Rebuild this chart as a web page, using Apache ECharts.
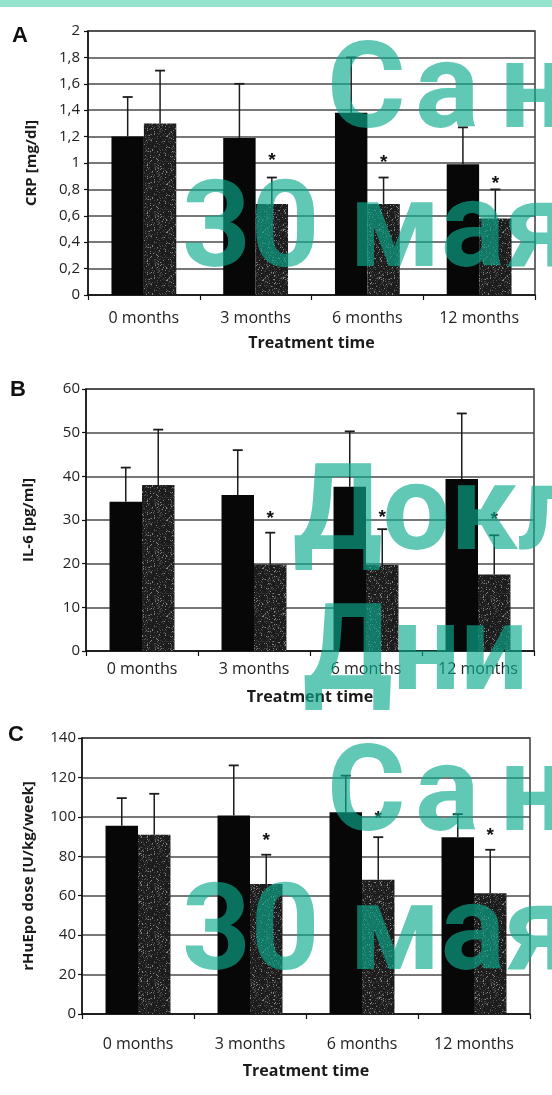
<!DOCTYPE html>
<html>
<head>
<meta charset="utf-8">
<script src="https://cdn.jsdelivr.net/npm/echarts@6/dist/echarts.min.js"></script>
<style>
html,body{margin:0;padding:0;background:#fff;}
#c{width:552px;height:1095px;}
</style>
</head>
<body>
<div id="c"></div>
<script>
// ---------- DATA ----------
const categories = ['0 months', '3 months', '6 months', '12 months'];

// Panel A: CRP [mg/dl]
const crpBlack = [1.2, 1.19, 1.38, 0.99];
const crpGray = [1.3, 0.69, 0.69, 0.58];
const crpBlackUpper = [1.5, 1.6, 1.8, 1.27];
const crpGrayUpper = [1.7, 0.89, 0.89, 0.8];
const crpStars = [null, 1.06, 1.05, 0.89];
const crpTicks = ['0', '0,2', '0,4', '0,6', '0,8', '1', '1,2', '1,4', '1,6', '1,8', '2'];

// Panel B: IL-6 [pg/ml]
const il6Black = [34.2, 35.7, 37.6, 39.4];
const il6Gray = [38.0, 19.8, 19.7, 17.5];
const il6BlackUpper = [42.0, 46.0, 50.3, 54.4];
const il6GrayUpper = [50.7, 27.1, 27.9, 26.5];
const il6Stars = [null, 31.7, 31.9, 31.4];
const il6Ticks = ['0', '10', '20', '30', '40', '50', '60'];

// Panel C: rHuEpo dose [U/kg/week]
const epoBlack = [95.5, 100.7, 102.3, 89.6];
const epoGray = [90.9, 66.0, 68.1, 61.3];
const epoBlackUpper = [109.5, 126.1, 120.9, 101.4];
const epoGrayUpper = [111.7, 80.8, 89.7, 83.3];
const epoStars = [null, 90.9, 101.9, 93.4];
const epoTicks = ['0', '20', '40', '60', '80', '100', '120', '140'];

// ---------- STYLE HELPERS ----------
function speckle() {
  const w = 48, h = 48;
  const cv = document.createElement('canvas');
  cv.width = w; cv.height = h;
  const ctx = cv.getContext('2d');
  const img = ctx.createImageData(w, h);
  for (let y = 0; y < h; y++) {
    for (let x = 0; x < w; x++) {
      let n = (x * 374761393 + y * 668265263) | 0;
      n = ((n ^ (n >>> 13)) * 1274126177) | 0;
      const r = ((n ^ (n >>> 16)) >>> 0) % 100;
      let c = 28;
      if (r < 5) c = 130; else if (r < 14) c = 78; else if (r < 26) c = 48;
      const k = (y * w + x) * 4;
      img.data[k] = c; img.data[k + 1] = c; img.data[k + 2] = c; img.data[k + 3] = 255;
    }
  }
  ctx.putImageData(img, 0, 0);
  return cv;
}
const grayPattern = { image: speckle(), repeat: 'repeat' };
const BAR_FRAC = 0.29;

function errRender(side) {
  return function (params, api) {
    const i = api.value(0);
    const base = api.coord([i, api.value(1)]);
    const top = api.coord([i, api.value(2)]);
    const band = api.size([1, 0])[0];
    const x = base[0] + side * band * BAR_FRAC / 2;
    return {
      type: 'group',
      children: [
        { type: 'line', shape: { x1: x, y1: base[1], x2: x, y2: top[1] }, style: { stroke: '#1c1c1c', lineWidth: 1.5 } },
        { type: 'line', shape: { x1: x - 5, y1: top[1], x2: x + 5, y2: top[1] }, style: { stroke: '#1c1c1c', lineWidth: 1.8 } }
      ]
    };
  };
}
function starRender(params, api) {
  const i = api.value(0);
  const p = api.coord([i, api.value(1)]);
  const band = api.size([1, 0])[0];
  const x = p[0] + band * BAR_FRAC / 2;
  return {
    type: 'text',
    style: { text: '*', x: x, y: p[1] + 6, fill: '#111', font: 'bold 19px "Liberation Sans"', align: 'center', verticalAlign: 'middle' }
  };
}

const grids = [
  { left: 88, top: 31, width: 447, height: 264 },
  { left: 86, top: 389, width: 448, height: 262 },
  { left: 82, top: 738, width: 448, height: 276 }
];
const panels = [
  { name: 'CRP [mg/dl]', max: 2, interval: 0.2, ticks: crpTicks, black: crpBlack, gray: crpGray, bu: crpBlackUpper, gu: crpGrayUpper, stars: crpStars, lblMargin: 15, nameGap: 40, yNameGap: 49, yLblMargin: 8 },
  { name: 'IL-6 [pg/ml]', max: 60, interval: 10, ticks: il6Ticks, black: il6Black, gray: il6Gray, bu: il6BlackUpper, gu: il6GrayUpper, stars: il6Stars, lblMargin: 10, nameGap: 38, yNameGap: 50, yLblMargin: 6 },
  { name: 'rHuEpo dose [U/kg/week]', max: 140, interval: 20, ticks: epoTicks, black: epoBlack, gray: epoGray, bu: epoBlackUpper, gu: epoGrayUpper, stars: epoStars, lblMargin: 22, nameGap: 49, yNameGap: 46, yLblMargin: 6 }
];

const xAxis = [], yAxis = [], series = [];
panels.forEach((p, k) => {
  xAxis.push({
    gridIndex: k, type: 'category', data: categories,
    name: 'Treatment time', nameLocation: 'middle', nameGap: p.nameGap,
    nameTextStyle: { fontFamily: 'Open Sans', fontWeight: 'bold', fontSize: 16, color: '#1a1a1a' },
    axisLine: { lineStyle: { color: '#111', width: 1.5 } },
    axisTick: { show: true, length: 5, lineStyle: { color: '#111', width: 1.2 } },
    axisLabel: { fontFamily: 'Open Sans', fontSize: 16, color: '#222', margin: p.lblMargin }
  });
  yAxis.push({
    gridIndex: k, type: 'value', min: 0, max: p.max, interval: p.interval,
    name: p.name, nameLocation: 'middle', nameRotate: 90, nameGap: p.yNameGap,
    nameTextStyle: { fontFamily: 'Open Sans', fontWeight: 'bold', fontSize: 15, color: '#1a1a1a' },
    axisLine: { show: true, lineStyle: { color: '#111', width: 1.5 } },
    axisTick: { show: true, length: 4, lineStyle: { color: '#111', width: 1.2 } },
    axisLabel: { fontFamily: 'Open Sans', fontSize: 15, color: '#222', margin: p.yLblMargin, formatter: (v, idx) => p.ticks[idx] },
    splitLine: { show: true, lineStyle: { color: '#4a4a4a', width: 1.5 } }
  });
  series.push({
    type: 'bar', xAxisIndex: k, yAxisIndex: k, data: p.black, barGap: '0%', barCategoryGap: '42%',
    itemStyle: { color: '#070707' }, z: 2
  });
  series.push({
    type: 'bar', xAxisIndex: k, yAxisIndex: k, data: p.gray, barGap: '0%', barCategoryGap: '42%',
    itemStyle: { color: grayPattern }, z: 2
  });
  series.push({
    type: 'custom', xAxisIndex: k, yAxisIndex: k, renderItem: errRender(-1),
    data: p.black.map((v, i) => [i, v, p.bu[i]]), encode: { x: 0, y: 2 }, z: 3
  });
  series.push({
    type: 'custom', xAxisIndex: k, yAxisIndex: k, renderItem: errRender(1),
    data: p.gray.map((v, i) => [i, v, p.gu[i]]), encode: { x: 0, y: 2 }, z: 3
  });
  series.push({
    type: 'custom', xAxisIndex: k, yAxisIndex: k, renderItem: starRender,
    data: p.stars.map((v, i) => [i, v]).filter(d => d[1] !== null), encode: { x: 0, y: 1 }, z: 3
  });
});

const wm = 'rgba(10,170,140,0.65)';
const wmFont = 'bold 120px Roboto';
function wmText(text, x, y) {
  return { type: 'text', z: 100, silent: true, style: { text: text, x: x, y: y, font: wmFont, fill: wm, align: 'left', verticalAlign: 'middle' } };
}
function letter(text, x, y) {
  return { type: 'text', z: 50, style: { text: text, x: x, y: y, font: 'bold 22px "Liberation Sans"', fill: '#111', align: 'left', verticalAlign: 'middle' } };
}

const chart = echarts.init(document.getElementById('c'), null, { renderer: 'canvas' });
chart.setOption({
  backgroundColor: '#ffffff',
  animation: false,
  grid: grids.map(g => Object.assign({ show: true, borderColor: '#3a3a3a', borderWidth: 1.5, backgroundColor: 'transparent' }, g)),
  xAxis: xAxis,
  yAxis: yAxis,
  series: series,
  graphic: [
    { type: 'rect', z: 100, shape: { x: 0, y: 0, width: 552, height: 7 }, style: { fill: '#97e2cd' } },
    letter('A', 12, 36), letter('B', 10, 390), letter('C', 8, 735),
    wmText('С', 327, 97), wmText('а', 415, 97), wmText('н', 500, 97),
    wmText('30 мая', 182, 236),
    wmText('Докл', 293, 519), wmText('Дни', 303, 659),
    wmText('С', 327, 800), wmText('а', 415, 800), wmText('н', 500, 800),
    wmText('30 мая', 182, 939)
  ]
});
</script>
</body>
</html>
